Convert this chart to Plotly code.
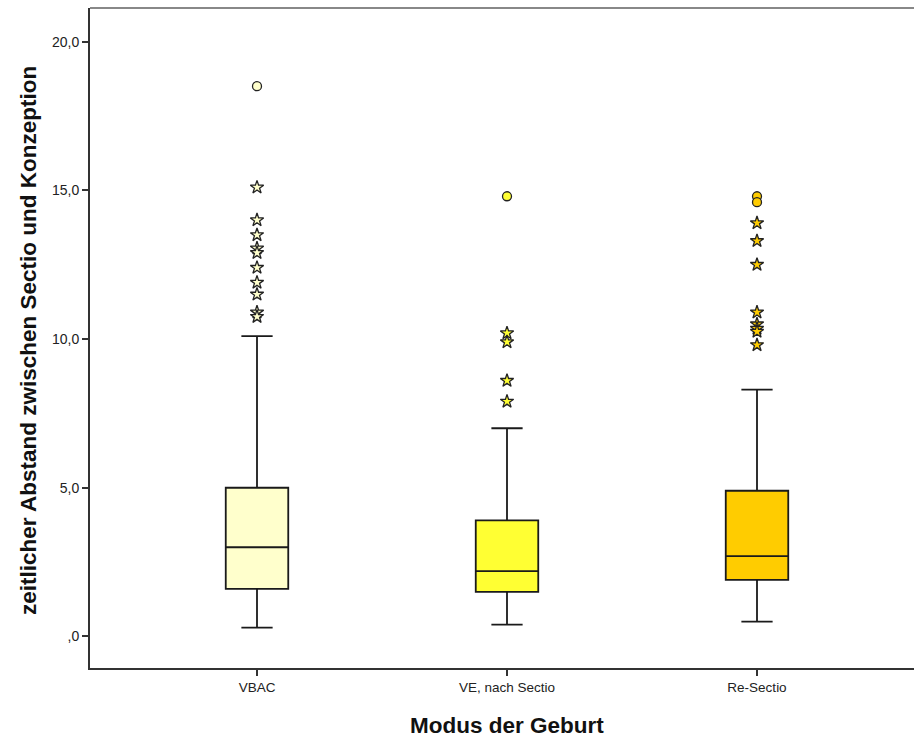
import plotly.graph_objects as go

categories = ["VBAC", "VE, nach Sectio", "Re-Sectio"]
colors = ["#FFFFCC", "#FFFF33", "#FFCC00"]
lower_whisker = [0.3, 0.4, 0.5]
q1 = [1.6, 1.5, 1.9]
median = [3.0, 2.2, 2.7]
q3 = [5.0, 3.9, 4.9]
upper_whisker = [10.1, 7.0, 8.3]

# outliers (circles) and extreme values (stars)
outliers_circle = [
    [18.5],
    [14.8],
    [14.8, 14.6],
]
outliers_star = [
    [15.1, 14.0, 13.5, 13.05, 12.9, 12.4, 11.9, 11.5, 10.9, 10.75],
    [10.2, 9.9, 8.6, 7.9],
    [13.9, 13.3, 12.5, 10.9, 10.5, 10.35, 10.25, 9.8],
]

ytick_vals = [0, 5, 10, 15, 20]
ytick_text = [",0", "5,0", "10,0", "15,0", "20,0"]

x_title = "Modus der Geburt"
y_title = "zeitlicher Abstand zwischen Sectio und Konzeption"

fig = go.Figure()

for i, cat in enumerate(categories):
    fig.add_trace(go.Box(
        x=[cat],
        q1=[q1[i]], median=[median[i]], q3=[q3[i]],
        lowerfence=[lower_whisker[i]], upperfence=[upper_whisker[i]],
        fillcolor=colors[i],
        line=dict(color="#1a1a1a", width=1.8),
        width=0.25,
        whiskerwidth=0.5,
        boxpoints=False,
        showlegend=False,
        hoverinfo="skip",
    ))
    fig.add_trace(go.Scatter(
        x=[cat] * len(outliers_circle[i]), y=outliers_circle[i],
        mode="markers",
        marker=dict(symbol="circle", size=9, color=colors[i],
                    line=dict(color="#222222", width=1.3)),
        showlegend=False,
    ))
    fig.add_trace(go.Scatter(
        x=[cat] * len(outliers_star[i]), y=outliers_star[i],
        mode="markers",
        marker=dict(symbol="star", size=10, color=colors[i],
                    line=dict(color="#222222", width=1.3)),
        showlegend=False,
    ))

plot_w = 914 - 90

fig.update_layout(
    width=914, height=737,
    margin=dict(l=90, r=0, t=8, b=69),
    plot_bgcolor="white", paper_bgcolor="white",
    font=dict(family="Liberation Sans, Arial, sans-serif", color="#222222", size=13),
    showlegend=False,
    xaxis=dict(
        type="category",
        categoryorder="array", categoryarray=categories,
        range=[-0.668, 2.628],
        showline=True, linecolor="#333333", linewidth=2,
        ticks="outside", ticklen=6, tickwidth=2, tickcolor="#333333",
        showgrid=False, zeroline=False,
        tickfont=dict(size=13.5, color="#222222"),
    ),
    yaxis=dict(
        range=[-1.06, 21.13],
        tickvals=ytick_vals, ticktext=ytick_text,
        showline=True, linecolor="#333333", linewidth=2,
        ticks="outside", ticklen=6, tickwidth=2, tickcolor="#333333",
        showgrid=False, zeroline=False,
        tickfont=dict(size=14, color="#222222"),
    ),
    shapes=[dict(type="line", xref="paper", yref="paper", x0=0, x1=1, y0=1, y1=1,
                 line=dict(color="#888888", width=2))],
    annotations=[
        dict(text="<b>" + x_title + "</b>", xref="paper", yref="paper",
             x=(507 - 90) / plot_w, y=-(725 - 668) / 660, xanchor="center", yanchor="middle",
             showarrow=False, font=dict(size=22.5, color="#111111")),
        dict(text="<b>" + y_title + "</b>", xref="paper", yref="paper",
             x=-(90 - 28) / plot_w, y=(668 - 341) / 660, xanchor="center", yanchor="middle",
             textangle=-90, showarrow=False, font=dict(size=22.5, color="#111111")),
    ],
)

fig.write_html("out.html")
